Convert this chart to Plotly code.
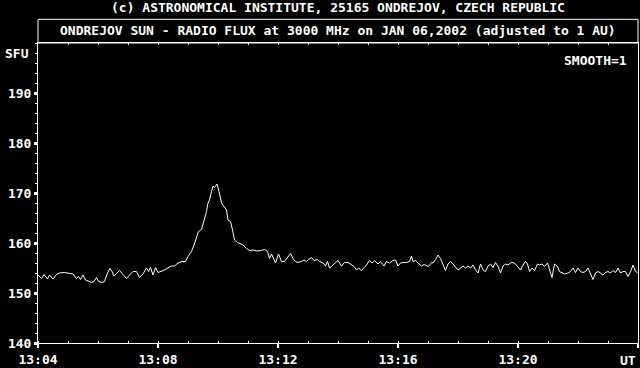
import plotly.graph_objects as go

# ---- data (seconds after 13:04:00 UT, flux in SFU) ----
t_part1 = [0, 7, 12, 19, 23, 30, 37, 43, 53, 63, 70, 77, 81, 85, 90, 95, 100, 107, 112, 117,
           121, 128, 133, 139, 144, 148, 152, 157, 163, 170, 177, 183, 190, 197, 203, 210, 217, 221, 225, 230,
           235, 240, 247, 253, 260, 267, 273, 280, 288, 295, 300, 307, 312, 317, 321, 327, 332, 337, 340, 343,
           347, 350, 353, 358, 362, 367, 372, 377, 380, 385, 389, 393, 399]
v_part1 = [153.6, 152.9, 153.7, 152.8, 153.6, 152.8, 153.7, 154.0, 154.1, 154.0, 153.8, 152.9, 153.3, 152.7, 153.6, 152.6, 152.4, 152.1, 152.3, 153.1,
           152.3, 152.1, 152.3, 154.0, 154.9, 154.3, 153.4, 154.0, 154.5, 153.7, 152.9, 153.6, 154.3, 154.3, 153.1, 153.8, 155.0, 154.3, 155.1, 153.6,
           155.1, 154.1, 154.3, 154.6, 155.0, 155.4, 155.4, 156.0, 156.3, 156.3, 157.3, 158.3, 159.6, 160.9, 162.3, 162.7, 164.3, 166.3, 168.0, 168.6,
           170.3, 171.4, 171.1, 171.8, 170.3, 168.0, 167.3, 166.6, 164.6, 164.3, 162.6, 160.6, 160.1]

t_part2 = [403, 410, 417, 423, 430, 437, 447, 453, 459, 463, 467, 472, 475, 481, 487, 493, 500, 505, 510, 515,
           520, 527, 532, 537, 541, 547, 552, 559, 563, 570, 575, 579, 583, 590, 595, 600, 607, 613, 620, 627,
           632, 637, 641, 647, 652, 657, 663, 668, 673, 680, 685, 692, 697, 703, 710, 715, 720, 725, 730, 737,
           743, 747, 750, 755, 760, 767, 772, 777, 781, 787, 790, 795]
v_part2 = [159.9, 159.6, 158.9, 158.5, 158.6, 158.4, 158.5, 158.7, 158.3, 156.9, 157.8, 156.6, 156.0, 157.8, 156.3, 156.3, 157.3, 157.9, 156.9, 156.3,
           156.1, 156.3, 156.6, 156.3, 156.7, 157.1, 156.5, 156.7, 156.3, 156.0, 155.4, 156.3, 155.0, 155.6, 156.0, 156.5, 155.4, 156.1, 156.1, 155.6,
           155.3, 154.6, 155.0, 154.5, 155.0, 155.6, 156.5, 156.0, 156.5, 155.8, 156.3, 155.4, 156.3, 156.0, 156.5, 156.6, 155.4, 156.0, 156.1, 156.1,
           156.3, 157.4, 156.3, 156.5, 156.0, 155.4, 155.7, 155.4, 155.3, 156.1, 156.0, 156.7]

t_part3 = [800, 805, 810, 815, 820, 825, 830, 835, 840, 845, 850, 855, 860, 865, 870, 875, 880, 885, 890, 895,
           900, 905, 910, 915, 920, 925, 930, 935, 940, 945, 950, 955, 960, 965, 970, 975, 979, 983, 988, 993,
           999, 1003, 1008, 1013, 1019, 1023, 1028, 1033, 1039, 1043, 1048, 1053, 1060, 1065, 1070, 1075, 1080, 1085, 1090, 1095,
           1100, 1105, 1110, 1115, 1120, 1125, 1130, 1135, 1140, 1145, 1150, 1155, 1160, 1165, 1170, 1175, 1180, 1185, 1190, 1195,
           1199]
v_part3 = [157.6, 156.9, 155.6, 154.5, 155.8, 156.3, 155.8, 155.3, 154.6, 155.0, 155.4, 155.0, 155.4, 155.0, 155.6, 154.6, 154.0, 155.8, 154.6, 154.3,
           155.4, 155.8, 155.1, 156.1, 155.3, 154.0, 155.4, 155.8, 155.6, 156.0, 156.1, 155.8, 155.3, 154.6, 155.6, 156.3, 155.8, 154.3, 155.0, 154.5,
           155.8, 155.6, 155.8, 155.3, 156.0, 154.7, 153.1, 155.8, 155.3, 154.3, 154.0, 153.8, 154.0, 154.3, 155.0, 154.1, 155.0, 154.3, 154.1, 154.3,
           155.0, 154.0, 152.7, 154.0, 154.3, 154.0, 153.6, 154.1, 154.3, 154.0, 154.5, 154.1, 155.0, 154.0, 154.3, 154.3, 153.3, 154.3, 155.6, 154.3,
           154.1]

start_minute = 4  # 13:04
x_tick_vals = [4, 8, 12, 16, 20, 24]
x_tick_text = ["13:04", "13:08", "13:12", "13:16", "13:20", ""]
y_tick_vals = [140, 150, 160, 170, 180, 190]
y_tick_text = ["140", "150", "160", "170", "180", "190"]

title_top = "(c) ASTRONOMICAL INSTITUTE, 25165 ONDREJOV, CZECH REPUBLIC"
title_box = "ONDREJOV SUN - RADIO FLUX at 3000 MHz on JAN 06,2002 (adjusted to 1 AU)"

secs = t_part1 + t_part2 + t_part3
flux = v_part1 + v_part2 + v_part3
minutes = [start_minute + s / 60.0 for s in secs]

FONT = dict(family="DejaVu Sans Mono", size=13, color="white", weight="bold")

fig = go.Figure()
fig.add_trace(go.Scatter(x=minutes, y=flux, mode="lines",
                         line=dict(color="white", width=1), showlegend=False, hoverinfo="skip"))
fig.add_trace(go.Scatter(x=[], y=[], xaxis="x2", showlegend=False, hoverinfo="skip"))

fig.update_layout(
    width=640, height=368,
    margin=dict(l=38, r=2, t=43, b=25),
    paper_bgcolor="black", plot_bgcolor="black",
    font=FONT,
    xaxis=dict(range=[4, 24], tickmode="array", tickvals=x_tick_vals, ticktext=x_tick_text,
               ticks="outside", ticklen=4, tickwidth=2, tickcolor="white",
               minor=dict(tickmode="linear", tick0=0, dtick=1, ticks="inside", ticklen=2,
                          tickwidth=1, tickcolor="white"),
               showline=True, linecolor="white", linewidth=1, mirror=True,
               showgrid=False, zeroline=False, tickfont=FONT),
    xaxis2=dict(range=[4, 24], overlaying="x", side="top", anchor="y",
                tickmode="linear", tick0=0, dtick=1, ticks="inside", ticklen=2, tickwidth=1,
                tickcolor="white", showticklabels=False, showline=False, showgrid=False,
                zeroline=False),
    yaxis=dict(range=[140, 200], tickmode="array", tickvals=y_tick_vals, ticktext=y_tick_text,
               ticks="outside", ticklen=3, tickwidth=3, tickcolor="white",
               minor=dict(tickmode="linear", tick0=0, dtick=2, ticks="outside", ticklen=2,
                          tickwidth=1, tickcolor="white"),
               showline=True, linecolor="white", linewidth=1, mirror=True,
               showgrid=False, zeroline=False, tickfont=FONT),
)

# title box above the plot
fig.add_shape(type="rect", xref="paper", yref="paper", x0=0, x1=1, y0=1, y1=1.079,
              line=dict(color="white", width=1), fillcolor="rgba(0,0,0,0)")

fig.add_annotation(text=title_top, xref="paper", yref="paper", x=0.5, y=1.117,
                   xanchor="center", yanchor="middle", showarrow=False, font=FONT)
fig.add_annotation(text=title_box, xref="paper", yref="paper", x=0.5, y=1.04,
                   xanchor="center", yanchor="middle", showarrow=False, font=FONT)
fig.add_annotation(text="SMOOTH=1", xref="paper", yref="paper", x=1, xshift=-9, y=0.943,
                   xanchor="right", yanchor="middle", showarrow=False, font=FONT)
fig.add_annotation(text="SFU", xref="paper", yref="y", x=0, xshift=-7, y=198,
                   xanchor="right", yanchor="middle", showarrow=False, font=FONT)
fig.add_annotation(text="UT", xref="paper", yref="paper", x=1, xshift=0, y=0, yshift=-17,
                   xanchor="right", yanchor="middle", showarrow=False, font=FONT)

fig.write_html("out.html")
